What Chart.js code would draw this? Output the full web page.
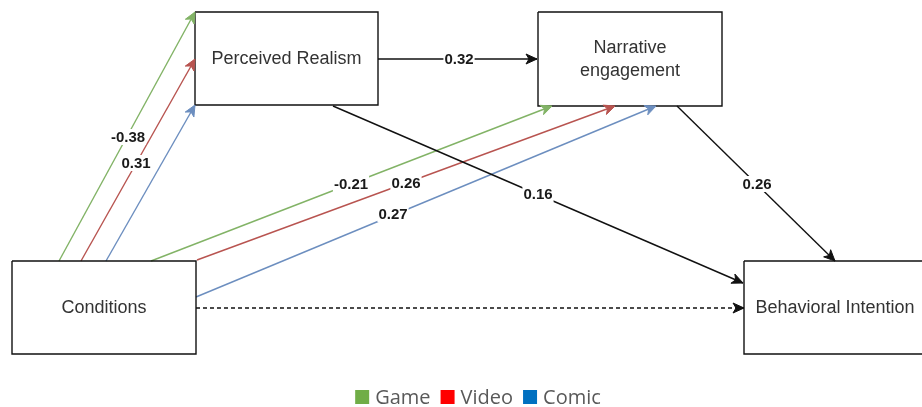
<!DOCTYPE html>
<html><head><meta charset="utf-8">
<script src="https://cdn.jsdelivr.net/npm/chart.js@4.4.1/dist/chart.umd.min.js"></script>
<style>html,body{margin:0;padding:0;background:#fff;overflow:hidden}#wrap{width:922px;height:407px}</style>
</head><body><div id="wrap"><canvas id="c" width="922" height="407"></canvas></div>
<script>
// Nodes of the path diagram
const nodeNames = ["Perceived Realism", "Narrative\nengagement", "Conditions", "Behavioral Intention"];
const nodeLeft   = [195, 538, 12, 744];
const nodeTop    = [12, 12, 261, 261];
const nodeRight  = [378, 722, 196, 924];
const nodeBottom = [105, 106, 354, 354];

// Paths (edges)
const pathGroup = ["Game","Video","Comic","All","All","Game","Video","Comic","All","All"];
const pathFromX = [59, 81, 106, 378, 333, 151, 197, 196, 677, 196];
const pathFromY = [261, 261, 261, 59, 106, 261, 260, 297, 106, 308];
const pathToX   = [195, 195, 195, 537, 743, 552, 615, 656, 835, 744];
const pathToY   = [12, 59, 105, 59, 283, 106, 106, 106, 261, 308];
const pathCoef  = ["-0.38", "0.31", "", "0.32", "0.16", "-0.21", "0.26", "0.27", "0.26", ""];
const coefX     = [128, 136, 0, 459, 538, 351, 406, 393, 757, 0];
const coefY     = [137, 163, 0, 59, 194, 184, 183, 214, 184, 0];
const pathDashed = [false,false,false,false,false,false,false,false,false,true];

// Legend
const legendLabels = ["Game", "Video", "Comic"];
const legendColors = ["#70AD47", "#FF0000", "#0070C0"];

const groupLine = {Game:"#82b366", Video:"#b85450", Comic:"#6c8ebf", All:"#111111"};

const datasets = [];
nodeNames.forEach((n, i) => {
  datasets.push({
    label: n, kind: "node", idx: i,
    data: [{x:nodeLeft[i],y:nodeTop[i]},{x:nodeRight[i],y:nodeTop[i]},{x:nodeRight[i],y:nodeBottom[i]},{x:nodeLeft[i],y:nodeBottom[i]},{x:nodeLeft[i],y:nodeTop[i]}],
    showLine: true, borderColor: "#111", borderWidth: 1.4, pointRadius: 0, pointHoverRadius: 0, fill: false, tension: 0
  });
});
pathGroup.forEach((g, i) => {
  datasets.push({
    label: g + " " + i, kind: "path", idx: i,
    data: [{x:pathFromX[i],y:pathFromY[i]},{x:pathToX[i],y:pathToY[i]}],
    showLine: true, borderColor: groupLine[g], borderWidth: 1.4, borderDash: pathDashed[i] ? [4,3] : [],
    pointRadius: 0, pointHoverRadius: 0, fill: false, tension: 0
  });
});

const diagramPlugin = {
  id: "diagram",
  afterDatasetsDraw(chart) {
    const ctx = chart.ctx, xs = chart.scales.x, ys = chart.scales.y;
    ctx.save();
    // arrowheads
    chart.data.datasets.forEach(ds => {
      if (ds.kind !== "path") return;
      const p0 = ds.data[0], p1 = ds.data[1];
      const x0 = xs.getPixelForValue(p0.x), y0 = ys.getPixelForValue(p0.y);
      const x1 = xs.getPixelForValue(p1.x), y1 = ys.getPixelForValue(p1.y);
      const a = Math.atan2(y1 - y0, x1 - x0);
      const L = 11, W = 5, N = 3;
      ctx.fillStyle = ds.borderColor; ctx.strokeStyle = ds.borderColor; ctx.lineWidth = 1;
      ctx.beginPath();
      ctx.moveTo(x1, y1);
      ctx.lineTo(x1 - L*Math.cos(a) + W*Math.sin(a), y1 - L*Math.sin(a) - W*Math.cos(a));
      ctx.lineTo(x1 - (L-N)*Math.cos(a), y1 - (L-N)*Math.sin(a));
      ctx.lineTo(x1 - L*Math.cos(a) - W*Math.sin(a), y1 - L*Math.sin(a) + W*Math.cos(a));
      ctx.closePath(); ctx.fill(); ctx.stroke();
    });
    // coefficient labels
    ctx.font = "bold 15px 'Liberation Sans', Arial, sans-serif";
    ctx.textAlign = "center"; ctx.textBaseline = "middle";
    pathCoef.forEach((t, i) => {
      if (!t) return;
      const px = xs.getPixelForValue(coefX[i]), py = ys.getPixelForValue(coefY[i]);
      const w = ctx.measureText(t).width;
      ctx.fillStyle = "#fff"; ctx.fillRect(px - w/2 - 1, py - 8, w + 2, 16);
      ctx.fillStyle = "#1a1a1a"; ctx.fillText(t, px, py + 1);
    });
    // node texts
    ctx.font = "18px 'Liberation Sans', Arial, sans-serif";
    ctx.fillStyle = "#333";
    nodeNames.forEach((n, i) => {
      const lines = n.split("\n");
      let cx = (nodeLeft[i] + nodeRight[i]) / 2;
      if (i === 3) cx = 835;
      const px = xs.getPixelForValue(cx);
      const cy = ys.getPixelForValue(i === 0 ? 58 : (i === 1 ? 59 : 307));
      const lh = 23;
      lines.forEach((ln, k) => ctx.fillText(ln, px, cy + (k - (lines.length - 1)/2) * lh + 1));
    });
    // legend
    ctx.font = "20px 'Open Sans', 'Noto Sans', sans-serif";
    ctx.textAlign = "left";
    const box = 14, gap = 6, sep = 10;
    let total = 0;
    const widths = legendLabels.map(l => ctx.measureText(l).width);
    widths.forEach((w, i) => { total += box + gap + w + (i < widths.length - 1 ? sep : 0); });
    let lx = 478 - total / 2; const ly = 397;
    legendLabels.forEach((l, i) => {
      ctx.fillStyle = legendColors[i]; ctx.fillRect(lx, ly - box/2, box, box);
      lx += box + gap;
      ctx.fillStyle = "#595959"; ctx.fillText(l, lx, ly + 1);
      lx += widths[i] + sep;
    });
    ctx.restore();
  }
};

new Chart(document.getElementById("c"), {
  type: "scatter",
  data: { datasets },
  options: {
    responsive: false, animation: false, events: [],
    layout: { padding: 0 },
    plugins: { legend: { display: false }, tooltip: { enabled: false } },
    scales: {
      x: { type: "linear", min: 0, max: 922, display: false },
      y: { type: "linear", min: 0, max: 407, reverse: true, display: false }
    }
  },
  plugins: [diagramPlugin]
});
</script></body></html>
